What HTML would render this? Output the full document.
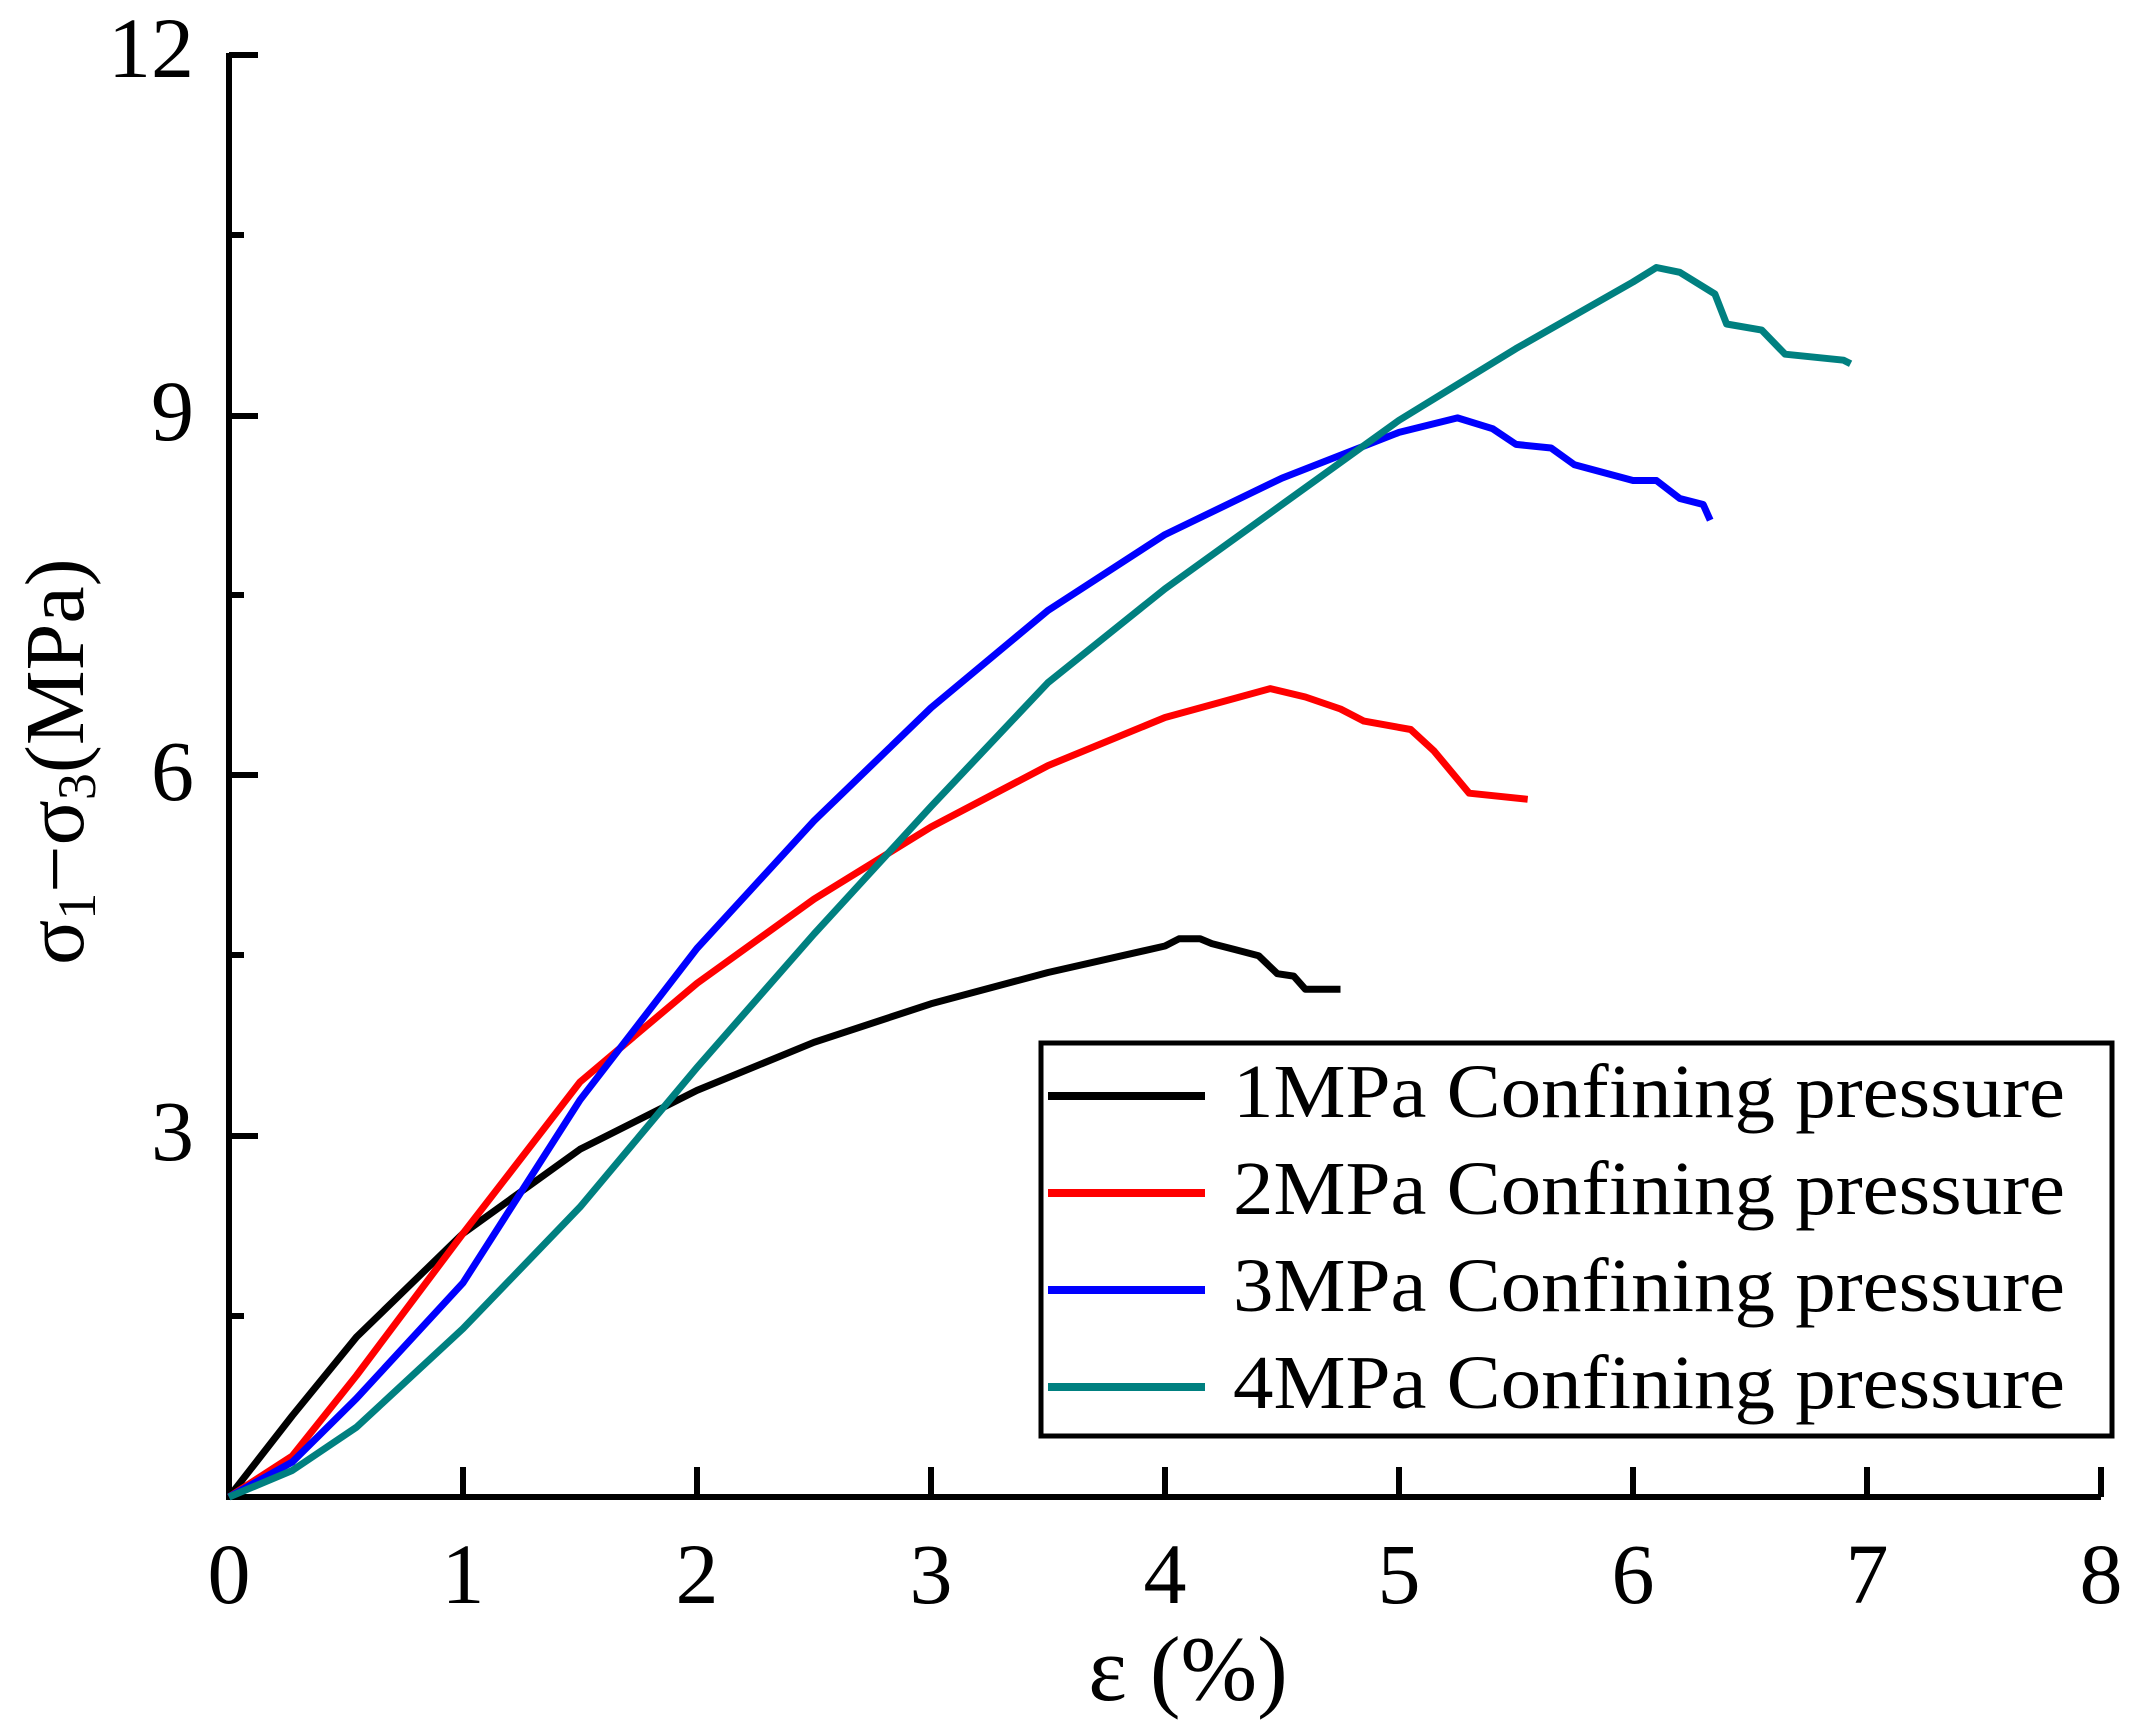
<!DOCTYPE html><html><head><style>html,body{margin:0;padding:0;background:#fff}</style></head><body>
<svg width="2144" height="1730" xmlns="http://www.w3.org/2000/svg" font-family="'Liberation Serif', serif">
<rect width="2144" height="1730" fill="#fff"/>
<g stroke="#000" stroke-width="6" fill="none">
<path d="M229,53 V1497 H2101"/>
<path d="M229,55 H258 M229,416 H258 M229,775 H258 M229,1136 H258 M229,235 H244 M229,595 H244 M229,955 H244 M229,1316 H244"/>
<path d="M463,1497 V1467 M697,1497 V1467 M931,1497 V1467 M1165,1497 V1467 M1399,1497 V1467 M1633,1497 V1467 M1867,1497 V1467 M2101,1497 V1467"/>
</g>
<g font-size="86" text-anchor="middle">
<text x="229" y="1603">0</text><text x="463" y="1603">1</text><text x="697" y="1603">2</text><text x="931" y="1603">3</text><text x="1165" y="1603">4</text><text x="1399" y="1603">5</text><text x="1633" y="1603">6</text><text x="1867" y="1603">7</text><text x="2101" y="1603">8</text>
</g>
<g font-size="86" text-anchor="end">
<text x="194" y="77">12</text><text x="194" y="440">9</text><text x="194" y="800">6</text><text x="194" y="1160">3</text>
</g>
<text x="1188" y="1700" font-size="92" text-anchor="middle">ε (%)</text>
<text transform="translate(83,965) rotate(-90)" font-size="84" font-family="'Liberation Serif', serif">σ<tspan font-size="54" dy="12">1</tspan><tspan dy="-12">−σ</tspan><tspan font-size="54" dy="12">3</tspan><tspan dy="-12">(MPa)</tspan></text>
<g fill="none" stroke-width="7" stroke-linejoin="round">
<polyline stroke="#000" points="229,1497 292.2,1415.8 356.5,1337 463,1233.5 580,1149.3 697,1090.4 814,1042.3 931,1003.8 1048,972.5 1165,946 1179,938.8 1200.1,938.8 1211.8,943.6 1235.2,949.6 1258.6,955.7 1277.3,973.7 1293.7,976.1 1305.4,989.3 1340.5,989.3"/>
<polyline stroke="#f00" points="229,1497 292.2,1456.1 356.5,1375.5 463,1233.5 580,1082 697,983.3 814,899.1 931,827 1048,765.6 1165,717.5 1270.3,688.6 1305.4,697 1340.5,709 1363.9,721.1 1410.7,729.5 1434.1,751.1 1469.2,793.2 1527.7,799.3"/>
<polyline stroke="#00f" points="229,1497 292.2,1462.1 356.5,1398.4 463,1282.9 580,1100 697,948.4 814,820.9 931,707.8 1048,610.4 1165,534.6 1282,478.1 1399,432.4 1457.5,417.9 1492.6,428.7 1516,444.4 1551.1,448 1574.5,464.8 1633,480.5 1656.4,480.5 1679.8,498.5 1703.2,504.5 1710.2,520.2"/>
<polyline stroke="#008080" points="229,1497 292.2,1470.5 356.5,1427.2 463,1328.6 580,1207.1 697,1067.5 814,934 931,806.5 1048,682.6 1165,588.8 1282,504.5 1399,420.3 1516,348.6 1633,282 1656.4,267.5 1679.8,272.3 1714.9,294 1726.6,324 1761.7,330.1 1785.1,354.2 1843.6,360.2 1850.6,363.8"/>
</g>
<rect x="1041" y="1043" width="1071" height="393" fill="#fff" stroke="#000" stroke-width="5"/>
<g stroke-width="8">
<line x1="1048" y1="1096" x2="1205" y2="1096" stroke="#000"/>
<line x1="1048" y1="1193" x2="1205" y2="1193" stroke="#f00"/>
<line x1="1048" y1="1290" x2="1205" y2="1290" stroke="#00f"/>
<line x1="1048" y1="1387" x2="1205" y2="1387" stroke="#008080"/>
</g>
<g font-size="76">
<text x="1233" y="1117" textLength="832" lengthAdjust="spacingAndGlyphs">1MPa Confining pressure</text>
<text x="1233" y="1214" textLength="832" lengthAdjust="spacingAndGlyphs">2MPa Confining pressure</text>
<text x="1233" y="1311" textLength="832" lengthAdjust="spacingAndGlyphs">3MPa Confining pressure</text>
<text x="1233" y="1408" textLength="832" lengthAdjust="spacingAndGlyphs">4MPa Confining pressure</text>
</g>
</svg>
</body></html>
